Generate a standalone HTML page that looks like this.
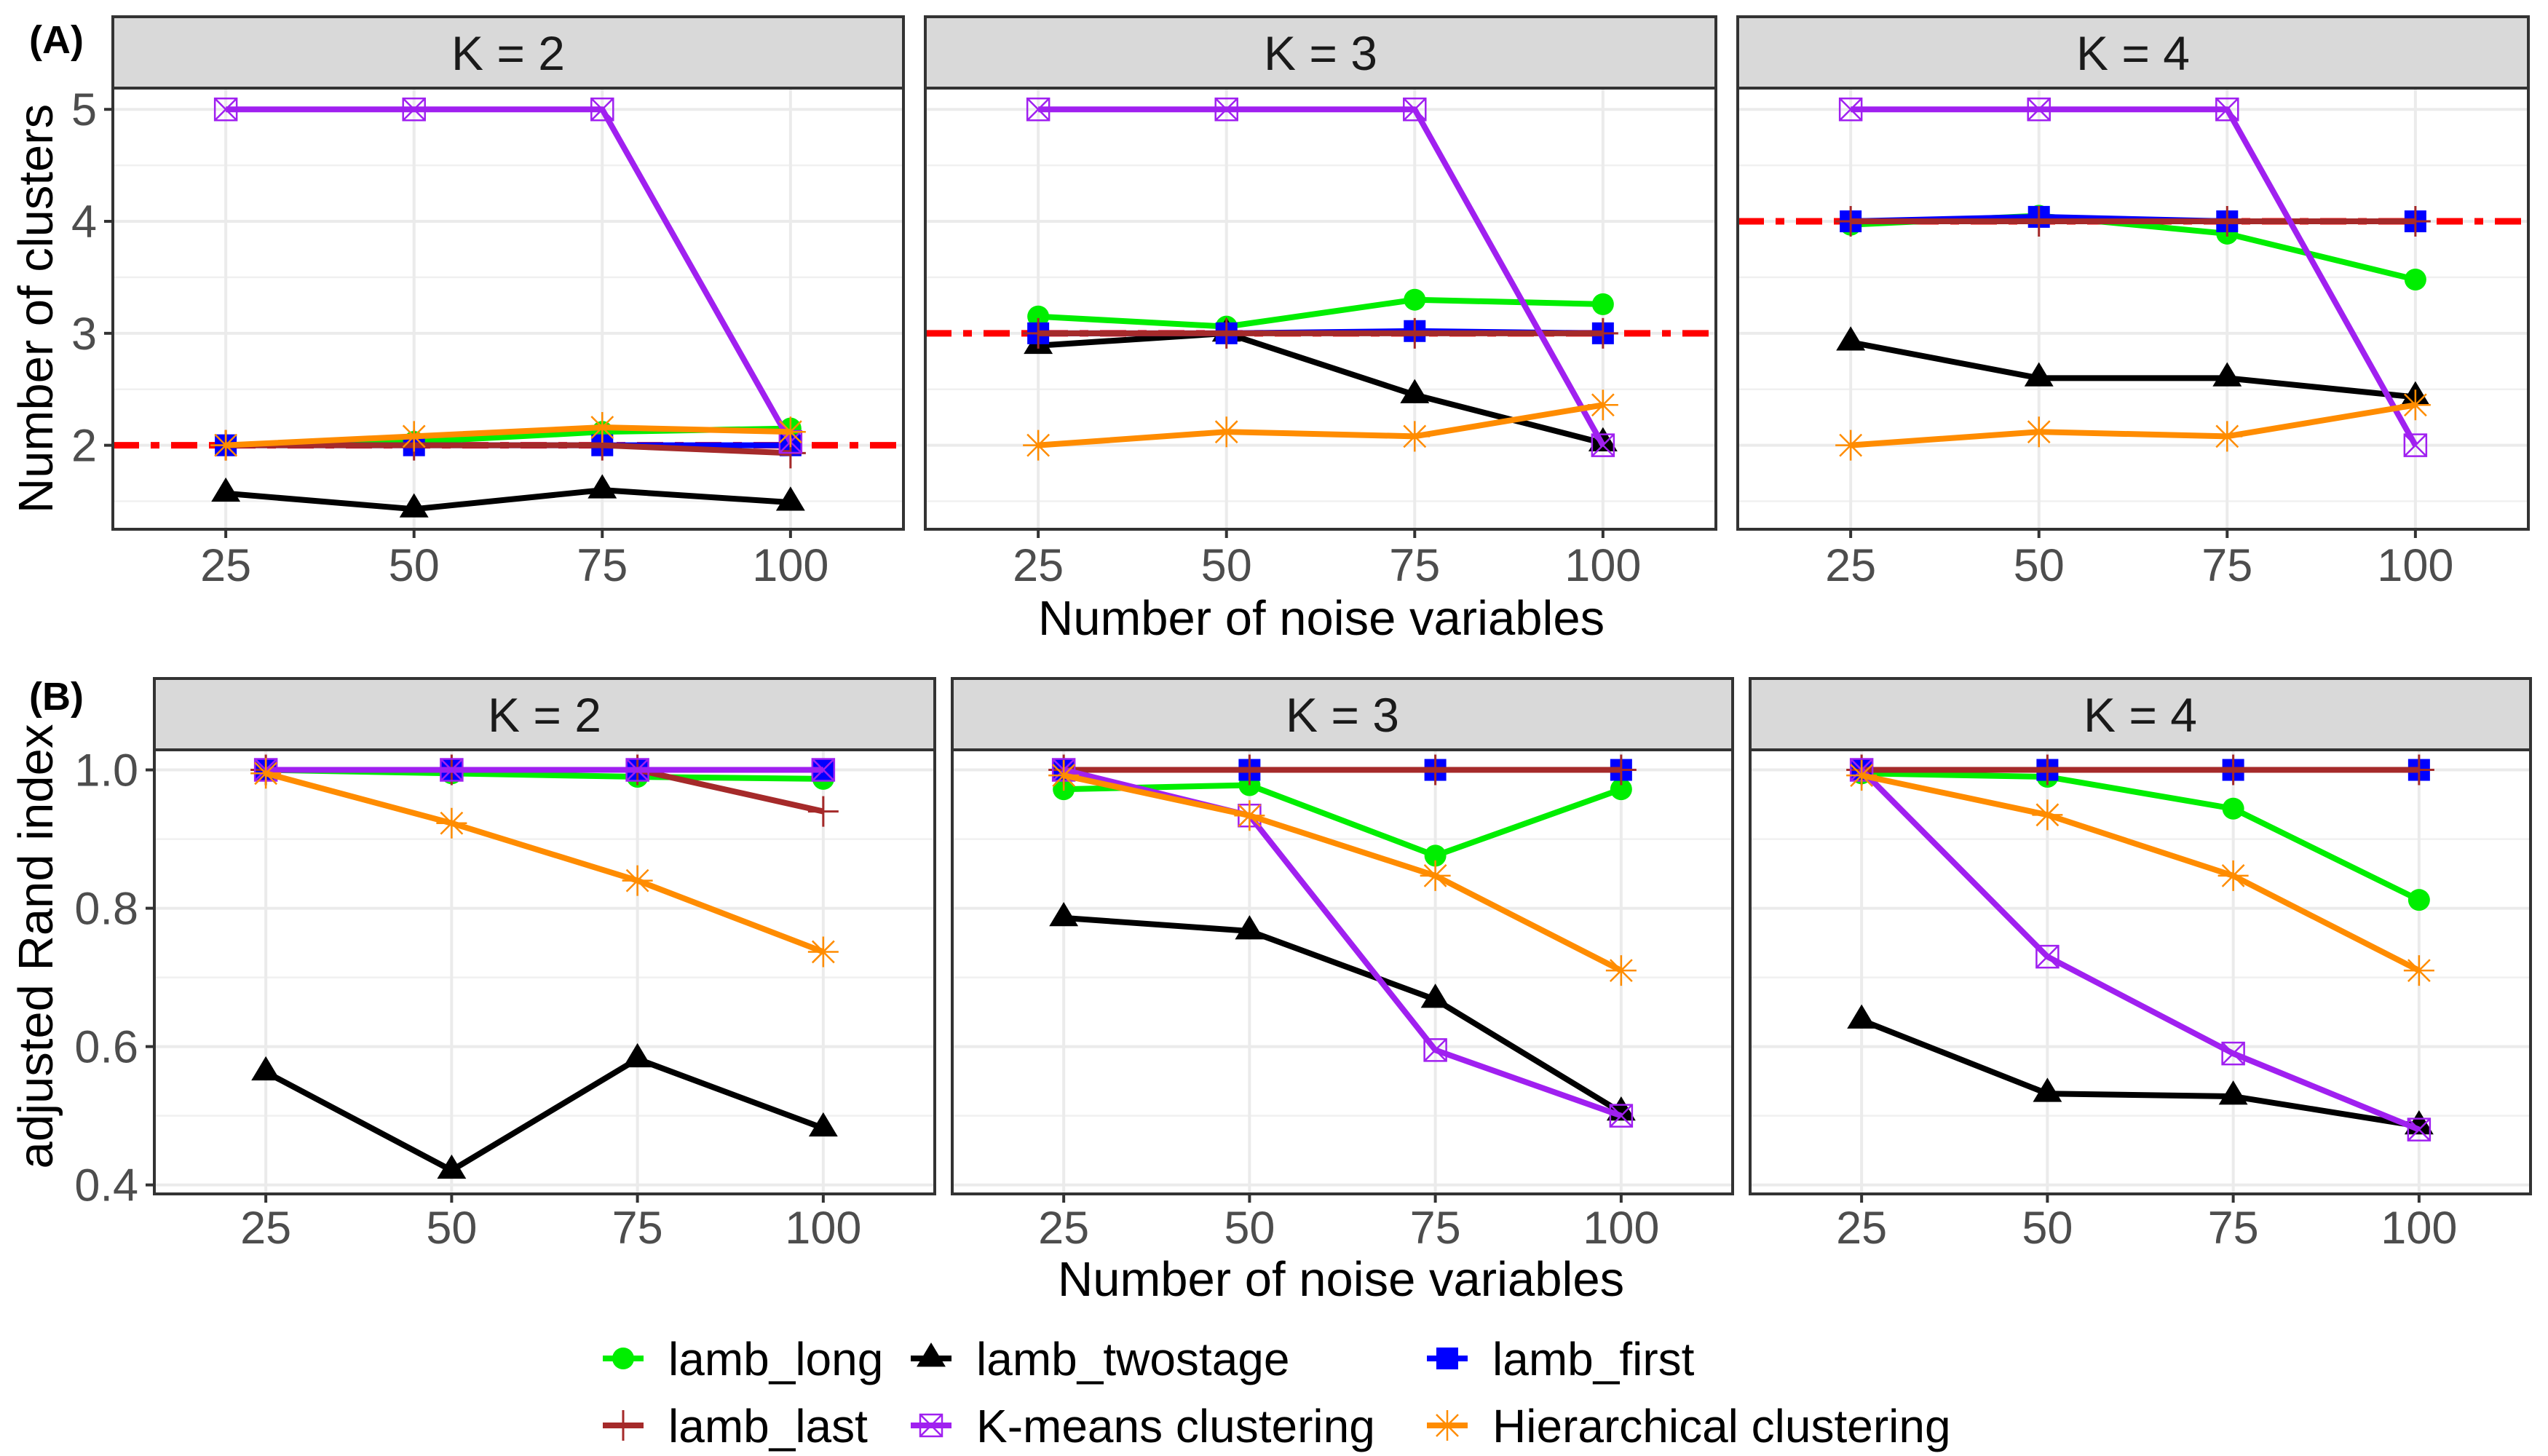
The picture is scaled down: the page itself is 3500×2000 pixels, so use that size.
<!DOCTYPE html>
<html><head><meta charset="utf-8">
<style>
html,body{margin:0;padding:0;background:#fff;}
svg{display:block;font-family:"Liberation Sans",sans-serif;}
</style></head>
<body>
<svg id="chart" width="3500" height="2000" viewBox="0 0 3500 2000" xmlns="http://www.w3.org/2000/svg">
<g id="root"></g>
</svg>
<script>
// ---------- data ----------
const noiseVars = [25, 50, 75, 100];
const facetLabels = ["K = 2", "K = 3", "K = 4"];
const trueK = [2, 3, 4];
const seriesNames = ["lamb_long","lamb_twostage","lamb_first","lamb_last","K-means clustering","Hierarchical clustering"];
// (A) number of clusters, per facet
const clustLong = [[2.0,2.03,2.12,2.15],[3.15,3.06,3.3,3.26],[3.97,4.05,3.89,3.48]];
const clustTwostage = [[1.57,1.43,1.6,1.49],[2.89,3.0,2.45,2.02],[2.92,2.6,2.6,2.43]];
const clustFirst = [[2.0,2.0,2.0,2.0],[3.0,3.0,3.02,3.0],[4.0,4.04,4.0,4.0]];
const clustLast = [[2.0,2.0,2.0,1.93],[3.0,3.0,3.0,3.0],[4.0,4.0,4.0,4.0]];
const clustKmeans = [[5,5,5,2.03],[5,5,5,2.0],[5,5,5,2.0]];
const clustHier = [[2.0,2.08,2.16,2.12],[2.0,2.12,2.08,2.36],[2.0,2.12,2.08,2.36]];
// (B) adjusted Rand index, per facet
const ariLong = [[1.0,0.995,0.99,0.987],[0.972,0.978,0.876,0.972],[0.995,0.99,0.944,0.812]];
const ariTwostage = [[0.563,0.421,0.582,0.482],[0.786,0.767,0.668,0.505],[0.638,0.532,0.528,0.485]];
const ariFirst = [[1,1,1,1],[1,1,1,1],[1,1,1,1]];
const ariLast = [[1,1,1,0.94],[1,1,1,1],[1,1,1,1]];
const ariKmeans = [[1,1,1,1],[1.0,0.934,0.595,0.5],[1.0,0.73,0.59,0.48]];
const ariHier = [[0.995,0.923,0.84,0.737],[0.992,0.934,0.847,0.71],[0.992,0.935,0.847,0.71]];
const yTicksA = [2,3,4,5];
const yMinorA = [1.5,2.5,3.5,4.5];
const yTicksB = [0.4,0.6,0.8,1.0];
const yTickLabelsB = ["0.4","0.6","0.8","1.0"];
const yMinorB = [0.5,0.7,0.9];

const colors = ["#00ee00","#000000","#0000ff","#a52a2a","#a020f0","#ff8c00"];
const shapes = ["circle","triangle","square","plus","boxx","asterisk"];

const NS = "http://www.w3.org/2000/svg";
const root = document.getElementById("root");
function el(tag, attrs, parent){
  const e = document.createElementNS(NS, tag);
  for (const k in attrs) e.setAttribute(k, attrs[k]);
  (parent||root).appendChild(e);
  return e;
}

function marker(g, shape, color, cx, cy){
  let m;
  if (shape==="circle"){
    m = el("circle",{cx:cx,cy:cy,r:15,fill:color},g);
  } else if (shape==="triangle"){
    const s=19;
    m = el("polygon",{points:`${cx},${cy-s*1.15} ${cx-s*1.05},${cy+s*0.6} ${cx+s*1.05},${cy+s*0.6}`,fill:color},g);
  } else if (shape==="square"){
    m = el("rect",{x:cx-15,y:cy-15,width:30,height:30,fill:color},g);
  } else if (shape==="plus"){
    m = el("path",{d:`M${cx-21},${cy}H${cx+21}M${cx},${cy-21}V${cy+21}`,stroke:color,"stroke-width":3,fill:"none"},g);
  } else if (shape==="boxx"){
    m = el("path",{d:`M${cx-15},${cy-15}h30v30h-30zM${cx-15},${cy-15}L${cx+15},${cy+15}M${cx+15},${cy-15}L${cx-15},${cy+15}`,stroke:color,"stroke-width":2.5,fill:"none"},g);
  } else {
    m = el("path",{d:`M${cx-21},${cy}H${cx+21}M${cx},${cy-21}V${cy+21}M${cx-15},${cy-15}L${cx+15},${cy+15}M${cx+15},${cy-15}L${cx-15},${cy+15}`,stroke:color,"stroke-width":2.5,fill:"none"},g);
  }
  
  
  return m;
}

function drawRow(cfg){
  for (let f=0; f<3; f++){
    const px = cfg.lefts[f], pw = cfg.width, top = cfg.top, bot = cfg.bottom;
    const g = el("g",{});
    
    
    const xs = v => px + (v-10)/(115-10)*pw;
    const ys = v => bot - (v-cfg.ymin)/(cfg.ymax-cfg.ymin)*(bot-top);
    const strip = el("rect",{x:px,y:cfg.stripTop,width:pw,height:top-cfg.stripTop,fill:"#d9d9d9",stroke:"#333","stroke-width":4},g);
    
    
    const st = el("text",{x:px+pw/2,y:(cfg.stripTop+top)/2+24,"text-anchor":"middle","font-size":66,fill:"#1a1a1a"},g);
    st.textContent = facetLabels[f];
    
    
    el("rect",{x:px,y:top,width:pw,height:bot-top,fill:"#fff"},g);
    cfg.minor.forEach(v=>{ el("line",{x1:px,x2:px+pw,y1:ys(v),y2:ys(v),stroke:"#f0f0f0","stroke-width":2.5},g); });
    cfg.ticks.forEach(v=>{ el("line",{x1:px,x2:px+pw,y1:ys(v),y2:ys(v),stroke:"#ebebeb","stroke-width":4},g); });
    noiseVars.forEach(v=>{ el("line",{x1:xs(v),x2:xs(v),y1:top,y2:bot,stroke:"#ebebeb","stroke-width":4},g); });
    if (cfg.ref){
      const r = el("line",{x1:px,x2:px+pw,y1:ys(trueK[f]),y2:ys(trueK[f]),stroke:"#ff0000","stroke-width":9,"stroke-dasharray":"36 16 12 16"},g);
      
      
    }
    cfg.data.forEach((arr,si)=>{
      const vals = arr[f];
      const pts = vals.map((v,i)=>xs(noiseVars[i])+","+ys(v)).join(" ");
      const ln = el("polyline",{points:pts,fill:"none",stroke:colors[si],"stroke-width":8,"stroke-linejoin":"round"},g);
      
      
      vals.forEach((v,i)=>marker(g, shapes[si], colors[si], xs(noiseVars[i]), ys(v)));
    });
    el("rect",{x:px,y:top,width:pw,height:bot-top,fill:"none",stroke:"#333","stroke-width":4},g);
    noiseVars.forEach(v=>{
      el("line",{x1:xs(v),x2:xs(v),y1:bot,y2:bot+12,stroke:"#333","stroke-width":4},g);
      const t = el("text",{x:xs(v),y:cfg.xLabelY,"text-anchor":"middle","font-size":63,fill:"#4d4d4d"},g);
      t.textContent = v;
      
      
    });
    if (f===0){
      cfg.ticks.forEach((v,i)=>{
        el("line",{x1:px-12,x2:px,y1:ys(v),y2:ys(v),stroke:"#333","stroke-width":4},g);
        const t = el("text",{x:px-22,y:ys(v)+22,"text-anchor":"end","font-size":63,fill:"#4d4d4d"},g);
        t.textContent = cfg.tickLabels[i];
        
        
      });
    }
  }
}

drawRow({prefix:"clusters", lefts:[155,1271,2387], width:1086, stripTop:23, top:121, bottom:727,
  ymin:1.25, ymax:5.19, ticks:yTicksA, tickLabels:yTicksA.map(String), minor:yMinorA, ref:true, xLabelY:798,
  data:[clustLong,clustTwostage,clustFirst,clustLast,clustKmeans,clustHier]});
drawRow({prefix:"ari", lefts:[212,1308,2404], width:1072, stripTop:932, top:1030, bottom:1640,
  ymin:0.387, ymax:1.029, ticks:yTicksB, tickLabels:yTickLabelsB, minor:yMinorB, ref:false, xLabelY:1708,
  data:[ariLong,ariTwostage,ariFirst,ariLast,ariKmeans,ariHier]});

function txt(attrs, s, name){
  const t = el("text", attrs);
  t.textContent = s;
  
  
  return t;
}
txt({x:40,y:73,"font-size":54,"font-weight":"bold",fill:"#000"},"(A)","panel-a-tag");
txt({x:40,y:975,"font-size":54,"font-weight":"bold",fill:"#000"},"(B)","panel-b-tag");
txt({x:1815,y:872,"text-anchor":"middle","font-size":67,fill:"#000"},"Number of noise variables","x-axis-title-a");
txt({x:1842,y:1780,"text-anchor":"middle","font-size":67,fill:"#000"},"Number of noise variables","x-axis-title-b");
txt({x:0,y:0,"text-anchor":"middle","font-size":67,fill:"#000",transform:"translate(72,424) rotate(-90)"},"Number of clusters","y-axis-title-a");
txt({x:0,y:0,"text-anchor":"middle","font-size":67,fill:"#000",transform:"translate(72,1300) rotate(-90)"},"adjusted Rand index","y-axis-title-b");

// legend
const legendX = [828, 1251, 1960];
const legendY = [1866, 1958];
seriesNames.forEach((nm,i)=>{
  const col = i%3, row = Math.floor(i/3);
  const g = el("g",{});
  
  
  const kx = legendX[col], ky = legendY[row];
  el("line",{x1:kx,x2:kx+56,y1:ky,y2:ky,stroke:colors[i],"stroke-width":8},g);
  marker(g, shapes[i], colors[i], kx+28, ky);
  const t = el("text",{x:kx+90,y:ky+23,"font-size":64,fill:"#000"},g);
  t.textContent = nm;
  
  
});
</script>
</body></html>
